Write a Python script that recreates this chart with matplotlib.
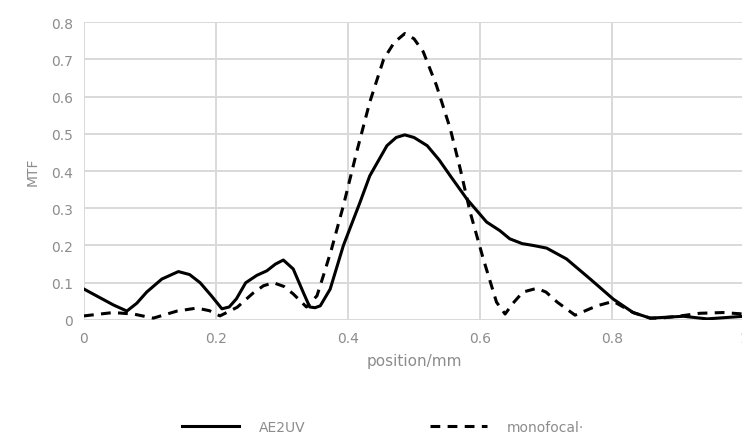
import matplotlib.pyplot as plt

# values
x_ae = [0, 0.024, 0.045, 0.065, 0.08, 0.095, 0.118, 0.143, 0.16, 0.176, 0.193, 0.209, 0.22, 0.231,
        0.245, 0.262, 0.277, 0.29, 0.302, 0.317, 0.332, 0.342, 0.35, 0.358, 0.373, 0.393,
        0.418, 0.433, 0.459, 0.473, 0.486, 0.5, 0.52, 0.538, 0.555, 0.58, 0.61, 0.63, 0.645,
        0.664, 0.681, 0.701, 0.731, 0.767, 0.802, 0.832, 0.858, 0.908, 0.944, 1.0]
y_ae = [0.083, 0.06, 0.04, 0.024, 0.045, 0.075, 0.11, 0.13, 0.122, 0.1, 0.065, 0.03, 0.035, 0.057,
        0.1, 0.12, 0.132, 0.15, 0.161, 0.137, 0.075, 0.035, 0.033, 0.038, 0.083, 0.2,
        0.315, 0.387, 0.468, 0.49, 0.497, 0.49, 0.468, 0.43, 0.387, 0.325, 0.263, 0.24, 0.218,
        0.205, 0.2, 0.193, 0.164, 0.11, 0.056, 0.02, 0.005, 0.01, 0.003, 0.01]

x_mono = [0, 0.044, 0.075, 0.105, 0.141, 0.171, 0.19, 0.206, 0.232, 0.256, 0.272, 0.287, 0.303,
          0.317, 0.337, 0.353, 0.365, 0.375, 0.393, 0.413, 0.433, 0.454, 0.47, 0.486, 0.5, 0.514,
          0.534, 0.555, 0.57, 0.585, 0.605, 0.625, 0.638, 0.65, 0.665, 0.686, 0.7, 0.717, 0.744,
          0.777, 0.802, 0.832, 0.858, 0.873, 0.9, 0.933, 0.968, 1.0]
y_mono = [0.011, 0.02, 0.016, 0.005, 0.024, 0.032, 0.025, 0.011, 0.034, 0.072, 0.092, 0.1, 0.09,
          0.07, 0.035, 0.065, 0.132, 0.19, 0.307, 0.45, 0.585, 0.70, 0.745, 0.769, 0.755, 0.72,
          0.63, 0.513, 0.406, 0.29, 0.164, 0.048, 0.016, 0.045, 0.075, 0.085, 0.075, 0.048, 0.013,
          0.038, 0.05, 0.02, 0.005, 0.005, 0.01, 0.018, 0.02, 0.016]

xticks = [0, 0.2, 0.4, 0.6, 0.8, 1]
xlabels = ['0', '0.2', '0.4', '0.6', '0.8', '1']
yticks = [0, 0.1, 0.2, 0.3, 0.4, 0.5, 0.6, 0.7, 0.8]
ylabels = ['0', '0.1', '0.2', '0.3', '0.4', '0.5', '0.6', '0.7', '0.8']

grey = '#8c8c8c'

fig = plt.figure(figsize=(7.42, 4.39), dpi=100)
ax = fig.add_axes([0.1132, 0.2688, 0.8895, 0.6788])

ax.plot(x_ae, y_ae, color='black', lw=2.2, label='AE2UV')
ax.plot(x_mono, y_mono, color='black', lw=2.2, linestyle=(0, (3.2, 2.4)), label='monofocal·')

ax.set_xlim(0, 1)
ax.set_ylim(0, 0.8)
ax.set_xticks(xticks)
ax.set_xticklabels(xlabels)
ax.set_yticks(yticks)
ax.set_yticklabels(ylabels)
ax.grid(True, color='#d9d9d9', lw=1.4)
ax.set_axisbelow(True)
for s in ax.spines.values():
    s.set_visible(False)
ax.tick_params(length=0, colors=grey, labelsize=10, pad=8)

ax.set_xlabel('position/mm', color=grey, fontsize=11, labelpad=6)
ax.set_ylabel('MTF', color=grey, fontsize=10, labelpad=8)

leg = ax.legend(loc='center left', bbox_to_anchor=(0.13, -0.36), ncol=2, frameon=False,
                fontsize=10, handlelength=4.1, columnspacing=8.9, handletextpad=1.45)
for t in leg.get_texts():
    t.set_color(grey)

fig.savefig('out.png', dpi=100)
